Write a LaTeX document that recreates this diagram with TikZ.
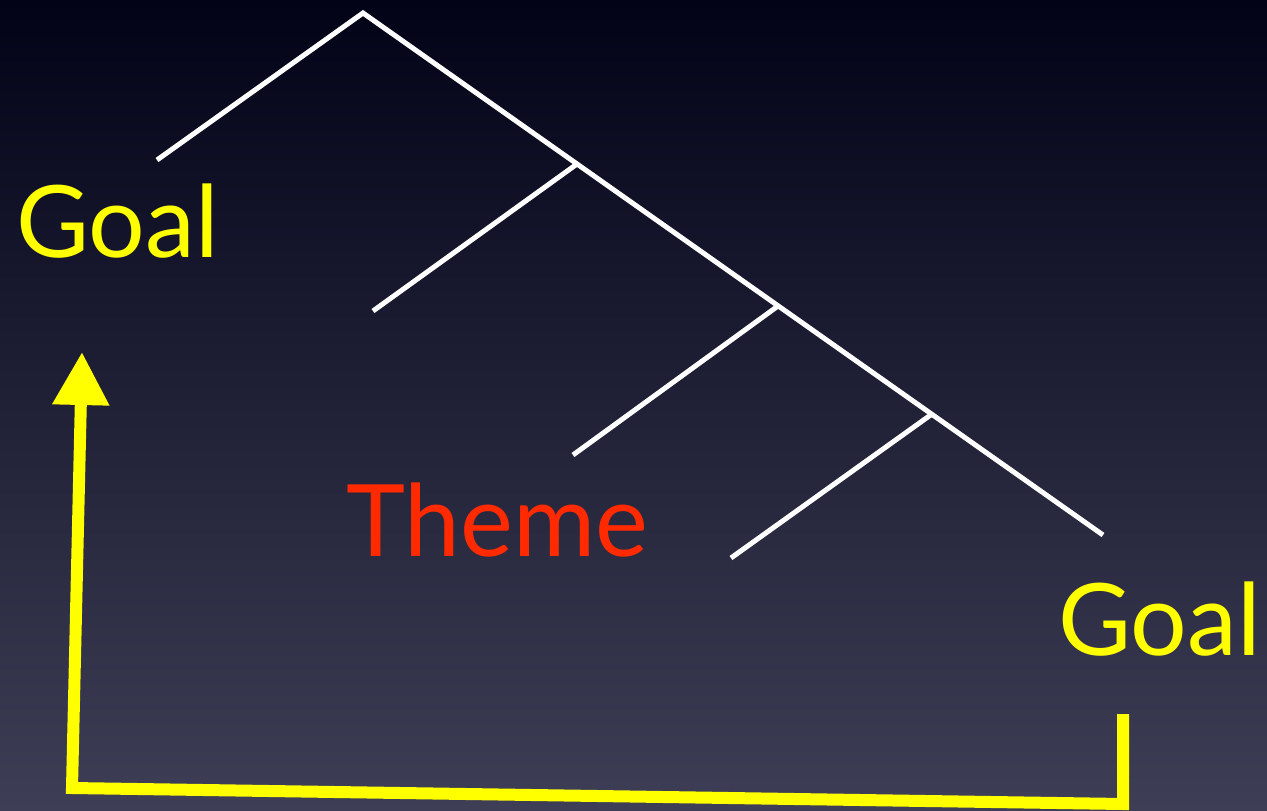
\documentclass[tikz,border=0pt]{standalone}
\usepackage{fontspec}
\setmainfont{Lato}
\usetikzlibrary{arrows.meta}
\definecolor{SkyTop}{HTML}{020317}
\definecolor{SkyMid}{HTML}{15162E}
\definecolor{SkyLow}{HTML}{3E3E56}
\definecolor{GoalYellow}{HTML}{FFFF00}
\definecolor{ThemeRed}{HTML}{FF2A00}
\tikzset{
  treeline/.style={draw=white,line width=5pt},
  roletext/.style={inner sep=0pt,anchor=base west,font=\fontsize{100}{110}\selectfont},
  goalpath/.style={draw=GoalYellow,line width=12pt,line join=miter,
    -{Triangle[length=53pt,width=54pt]}}
}
\begin{document}
\begin{tikzpicture}[x=1pt,y=-1pt]
  \useasboundingbox (0,0) rectangle (1267,811);
  \shade[top color=SkyTop,middle color=SkyMid,bottom color=SkyLow] (0,0) rectangle (1267,811);
  % tree
  \coordinate (root) at (363,13);
  \coordinate (spec) at (157,160);
  \coordinate (foot) at (1103,535);
  \coordinate (j1) at (577,164);
  \coordinate (j2) at (778,306);
  \coordinate (j3) at (932,414);
  \draw[treeline] (spec) -- (root) -- (foot);
  \draw[treeline] (j1) -- (373,311);
  \draw[treeline] (j2) -- (573,455);
  \draw[treeline] (j3) -- (731,558);
  % labels
  \node[roletext,text=GoalYellow] (goalL) at (16,257) {Goal};
  \node[roletext,text=ThemeRed] (theme) at (346,556) {Theme};
  \node[roletext,text=GoalYellow] (goalR) at (1058,655) {Goal};
  % movement
  \coordinate (startR) at (1123,714);
  \coordinate (cornR) at (1123,804);
  \coordinate (cornL) at (72,788);
  \coordinate (endL) at (82,352);
  \draw[goalpath] (startR) -- (cornR) -- (cornL) -- (endL);
\end{tikzpicture}
\end{document}
